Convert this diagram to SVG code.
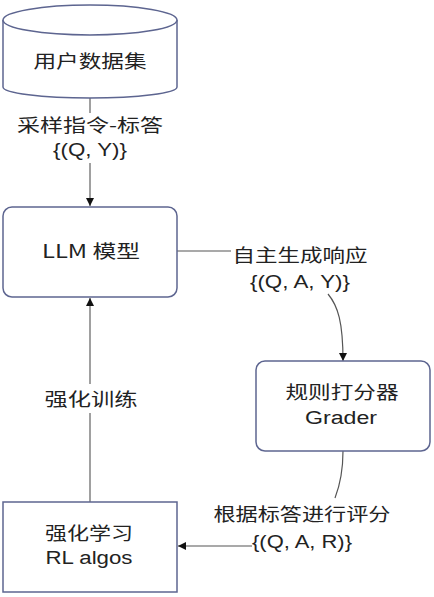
<svg xmlns="http://www.w3.org/2000/svg" width="434" height="597" viewBox="0 0 434 597">
<style>
.node{fill:#fff;stroke:#5d6590;stroke-width:1.5}
.t{font-family:"Noto Sans CJK SC","Liberation Sans",sans-serif;font-size:18px;fill:#222;text-anchor:middle}
.l{font-family:"Liberation Sans","Noto Sans CJK SC",sans-serif;font-size:18px;fill:#222;text-anchor:middle}
.gray{fill:none;stroke:#a0a0a0;stroke-width:2}
.dark{fill:none;stroke:#555;stroke-width:1.2}
</style>
<defs>
<marker id="arr" viewBox="0 0 10 10" refX="10" refY="5" markerWidth="8" markerHeight="8" markerUnits="userSpaceOnUse" orient="auto">
<path d="M0,0 L10,5 L0,10 Z" fill="#111"/>
</marker>
</defs>
<rect width="434" height="597" fill="#fff"/>
<g id="connectors">
<path class="gray" d="M90 98 V113 M90 163 V206" marker-end="url(#arr)"/>
<path class="gray" d="M90 502 V413 M90 384 V298" marker-end="url(#arr)"/>
<path class="dark" d="M177 251 H231"/>
<path class="dark" d="M328 294 C338 306 343 322 343 361" marker-end="url(#arr)"/>
<path class="dark" d="M343 451 C343 470 340 485 335 498"/>
<path class="dark" d="M252 546 H178" marker-end="url(#arr)"/>
<text class="t" x="90" y="132" textLength="146" lengthAdjust="spacingAndGlyphs">采样指令-标答</text>
<text class="l" x="90" y="156" textLength="74" lengthAdjust="spacingAndGlyphs">{(Q, Y)}</text>
<text class="t" x="91" y="406" textLength="93" lengthAdjust="spacingAndGlyphs">强化训练</text>
<text class="t" x="300" y="262" textLength="135" lengthAdjust="spacingAndGlyphs">自主生成响应</text>
<text class="l" x="300" y="288" textLength="100" lengthAdjust="spacingAndGlyphs">{(Q, A, Y)}</text>
<text class="t" x="302" y="521" textLength="177" lengthAdjust="spacingAndGlyphs">根据标答进行评分</text>
<text class="l" x="302" y="548" textLength="100" lengthAdjust="spacingAndGlyphs">{(Q, A, R)}</text>
</g>
<g id="dataset">
<path class="node" d="M3 20 A87 15 0 0 1 177 20 V87 A87 11 0 0 1 3 87 Z"/>
<path class="node" fill="none" d="M3 20 A87 15 0 0 0 177 20"/>
<text class="t" x="90" y="68" textLength="113" lengthAdjust="spacingAndGlyphs">用户数据集</text>
</g>
<g id="llm">
<rect class="node" x="3" y="207" width="174" height="90" rx="9"/>
<text class="t" x="91" y="258" textLength="98" lengthAdjust="spacingAndGlyphs">LLM 模型</text>
</g>
<g id="grader">
<rect class="node" x="256" y="361" width="174" height="90" rx="9"/>
<text class="t" x="342" y="399" textLength="113" lengthAdjust="spacingAndGlyphs">规则打分器</text>
<text class="l" x="341" y="424" textLength="72" lengthAdjust="spacingAndGlyphs">Grader</text>
</g>
<g id="rl">
<rect class="node" x="3" y="502" width="174" height="90"/>
<text class="t" x="89" y="540" textLength="88" lengthAdjust="spacingAndGlyphs">强化学习</text>
<text class="l" x="89" y="564" textLength="87" lengthAdjust="spacingAndGlyphs">RL algos</text>
</g>
</svg>
